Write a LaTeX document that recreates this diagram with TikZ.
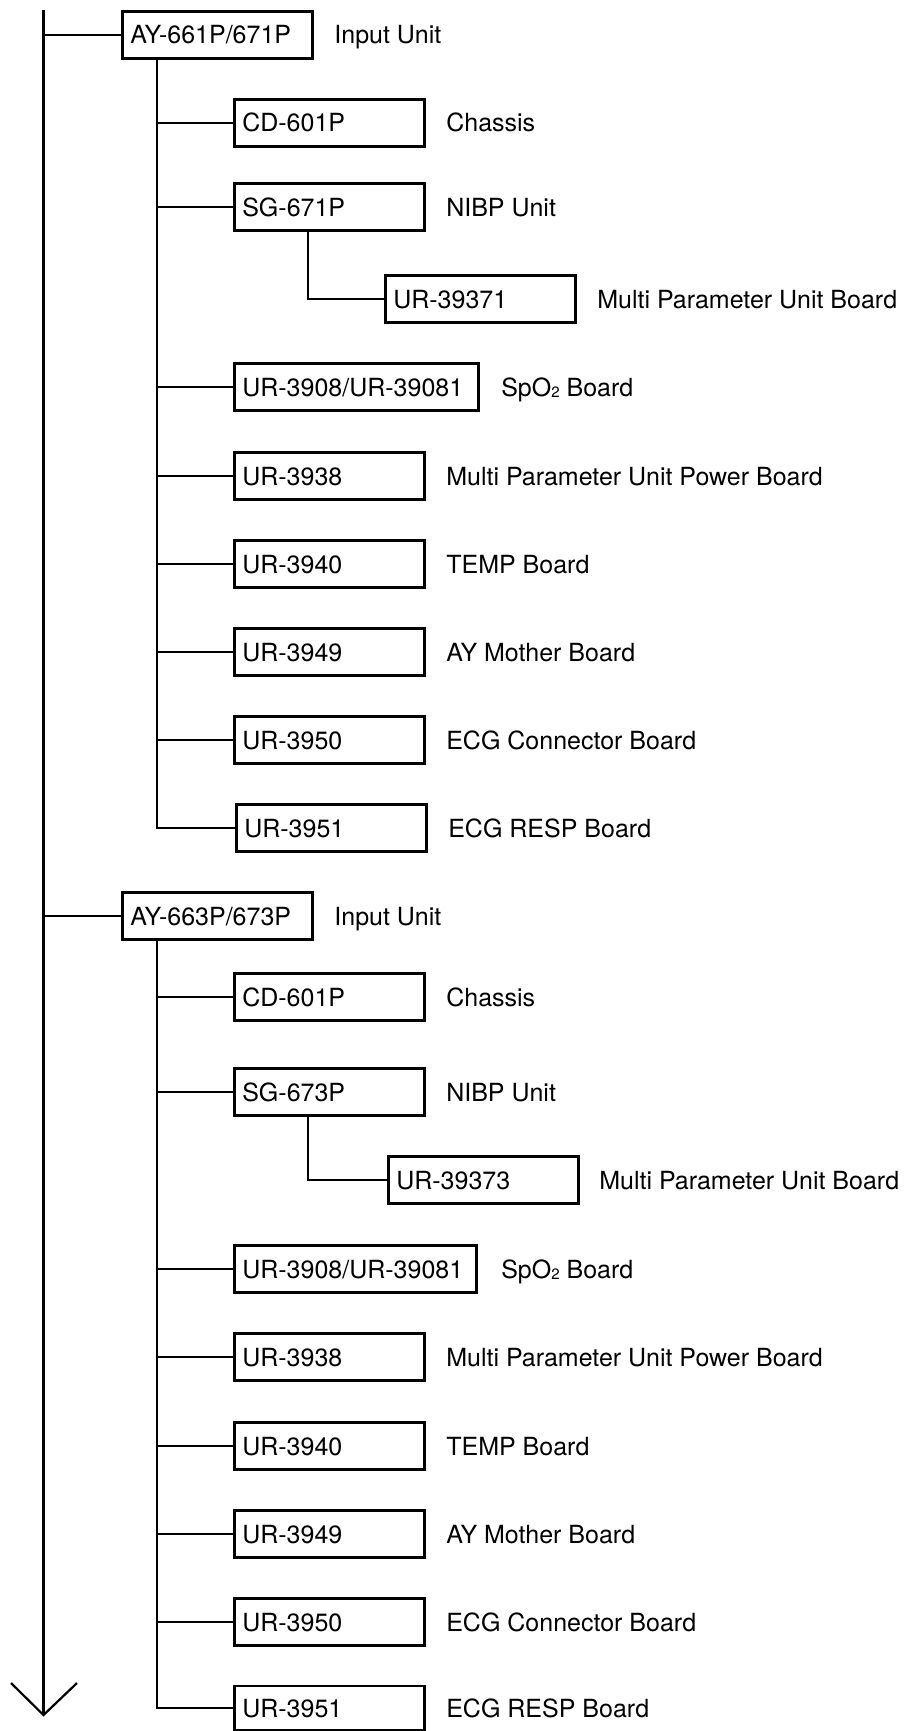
\documentclass[tikz,border=0pt]{standalone}
\usepackage{fontspec}
\setmainfont{TeX Gyre Heros}
\begin{document}
\begin{tikzpicture}[x=1pt,y=-1pt,line width=2.6pt,
  part/.style={draw,rectangle,anchor=west,minimum height=47pt,text width=174pt,
    inner xsep=8pt,inner ysep=0pt,text height=18pt,text depth=0pt,align=left,
    font=\fontsize{25}{30}\selectfont},
  widepart/.style={part,text width=228pt},
  desc/.style={anchor=west,inner sep=0pt,text height=18pt,text depth=0pt,
    font=\fontsize{25}{30}\selectfont},
  link/.style={line width=2.8pt},
  arrowwing/.style={line width=2.2pt}]
\useasboundingbox (0,0) rectangle (906,1731);
\newcommand{\spotwo}{SpO\raisebox{-1pt}{\fontsize{15}{15}\selectfont 2} Board}

% ---------- group 1 ----------
\node[part] (a1) at (121,35) {AY-661P/671P};
\node[desc] (a1d) at (333,35) {Input Unit};
\node[part] (a1cd) at (233,123) {CD-601P};
\node[desc] (a1cdd) at (445,123) {Chassis};
\node[part] (a1sg) at (233,207) {SG-671P};
\node[desc] (a1sgd) at (445,207) {NIBP Unit};
\node[part] (a1mp) at (384,299) {UR-39371};
\node[desc] (a1mpd) at (596,299) {Multi Parameter Unit Board};
\node[widepart] (a1sp) at (233,387) {UR-3908/UR-39081};
\node[desc] (a1spd) at (500,387) {\spotwo};
\node[part] (a1pw) at (233,476) {UR-3938};
\node[desc] (a1pwd) at (445,476) {Multi Parameter Unit Power Board};
\node[part] (a1tp) at (233,564) {UR-3940};
\node[desc] (a1tpd) at (445,564) {TEMP Board};
\node[part] (a1mb) at (233,652) {UR-3949};
\node[desc] (a1mbd) at (445,652) {AY Mother Board};
\node[part] (a1ec) at (233,740) {UR-3950};
\node[desc] (a1ecd) at (445,740) {ECG Connector Board};
\node[part] (a1rs) at (235,828) {UR-3951};
\node[desc] (a1rsd) at (447,828) {ECG RESP Board};

% ---------- group 2 ----------
\node[part] (a2) at (121,916) {AY-663P/673P};
\node[desc] (a2d) at (333,916) {Input Unit};
\node[part] (a2cd) at (233,997) {CD-601P};
\node[desc] (a2cdd) at (445,997) {Chassis};
\node[part] (a2sg) at (233,1092) {SG-673P};
\node[desc] (a2sgd) at (445,1092) {NIBP Unit};
\node[part] (a2mp) at (387,1180) {UR-39373};
\node[desc] (a2mpd) at (598,1180) {Multi Parameter Unit Board};
\node[widepart,text width=226pt] (a2sp) at (233,1269) {UR-3908/UR-39081};
\node[desc] (a2spd) at (500,1269) {\spotwo};
\node[part] (a2pw) at (233,1357) {UR-3938};
\node[desc] (a2pwd) at (445,1357) {Multi Parameter Unit Power Board};
\node[part] (a2tp) at (233,1446) {UR-3940};
\node[desc] (a2tpd) at (445,1446) {TEMP Board};
\node[part] (a2mb) at (233,1534) {UR-3949};
\node[desc] (a2mbd) at (445,1534) {AY Mother Board};
\node[part] (a2ec) at (233,1622) {UR-3950};
\node[desc] (a2ecd) at (445,1622) {ECG Connector Board};
\node[part,minimum height=44pt] (a2rs) at (233,1708) {UR-3951};
\node[desc] (a2rsd) at (445,1708) {ECG RESP Board};

% ---------- main spine ----------
\coordinate (top) at (43.5,10);
\coordinate (tip) at (43.5,1715);
\coordinate (wl) at (11,1683);
\coordinate (wr) at (77,1683);
\draw[link] (top) -- (tip);
\draw[arrowwing] (wl) -- (tip) -- (wr);
\draw[link] (a1.west) -- (a1.west -| top);
\draw[link] (a2.west) -- (a2.west -| top);

% ---------- group 1 branches ----------
\coordinate (v1) at ([xshift=36pt]a1.south west);
\draw[link] (v1) |- (a1rs.west);
\foreach \n in {a1cd,a1sg,a1sp,a1pw,a1tp,a1mb,a1ec}
  \draw[link] (\n.west) -- (\n.west -| v1);
\draw[link] ([xshift=75pt]a1sg.south west) |- (a1mp.west);

% ---------- group 2 branches ----------
\coordinate (v2) at ([xshift=36pt]a2.south west);
\draw[link] (v2) |- (a2rs.west);
\foreach \n in {a2cd,a2sg,a2sp,a2pw,a2tp,a2mb,a2ec}
  \draw[link] (\n.west) -- (\n.west -| v2);
\draw[link] ([xshift=75pt]a2sg.south west) |- (a2mp.west);
\end{tikzpicture}
\end{document}
